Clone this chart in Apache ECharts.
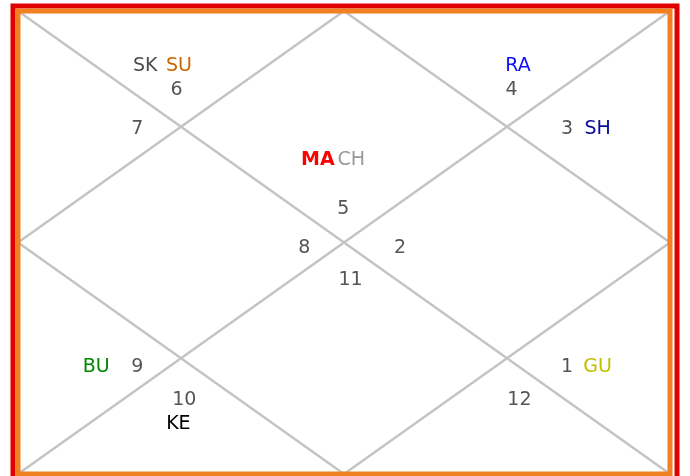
<!DOCTYPE html>
<html>
<head>
<meta charset="utf-8">
<script src="https://cdn.jsdelivr.net/npm/echarts@6/dist/echarts.min.js"></script>
<style>
  html, body { margin: 0; padding: 0; background: #fff; }
  #chart { width: 690px; height: 476px; }
</style>
</head>
<body>
<div id="chart"></div>
<script>
// chart drawn on a 0..100 square (y goes down)
const houseNumbers = ["1", "2", "3", "4", "5", "6", "7", "8", "9", "10", "11", "12"];
const houseX = [84.2, 58.6, 84.2, 75.7, 49.9, 24.3, 18.3, 43.9, 18.3, 25.5, 51.0, 76.9];
const houseY = [76.9, 51.2, 25.5, 17.1, 42.7, 17.1, 25.5, 51.2, 76.9, 84.0, 58.1, 84.0];

const planets = ["SK", "SU", "RA", "SH", "MA", "CH", "BU", "KE", "GU"];
const planetX = [19.5, 24.7, 76.7, 88.9, 46.0, 51.1, 12.0, 24.6, 88.9];
const planetY = [11.9, 11.9, 11.9, 25.5, 32.3, 32.3, 76.9, 89.2, 76.9];
const planetColors = ["#4d4d4d", "#cc6600", "#1010ff", "#0a0a99", "#ff0000", "#999999", "#008800", "#000000", "#c0c000"];

// house dividers: two diagonals and the inner diamond
const diag1 = [[0, 0], [100, 100]];
const diag2 = [[100, 0], [0, 100]];
const diamond = [[50, 0], [100, 50], [50, 100], [0, 50], [50, 0]];

const chart = echarts.init(document.getElementById("chart"));

const lineStyle = { color: "#c4c4c4", width: 2.5 };
const font = "DejaVu Sans, Verdana, sans-serif";

chart.setOption({
  animation: false,
  grid: {
    left: 18,
    top: 11,
    right: 20,
    bottom: 2,
    show: true,
    borderColor: "#f08020",
    borderWidth: 5,
    z: 10,
  },
  graphic: [
    {
      type: "rect",
      shape: { x: 13, y: 6, width: 664, height: 500 },
      style: { fill: null, stroke: "#e00000", lineWidth: 5 },
    },
  ],
  xAxis: { type: "value", min: 0, max: 100, show: false },
  yAxis: { type: "value", min: 0, max: 100, inverse: true, show: false },
  series: [
    { type: "line", data: diag1, symbol: "none", lineStyle: lineStyle },
    { type: "line", data: diag2, symbol: "none", lineStyle: lineStyle },
    { type: "line", data: diamond, symbol: "none", lineStyle: lineStyle },
    {
      type: "scatter",
      symbolSize: 0,
      itemStyle: { opacity: 1 },
      data: houseNumbers.map((n, i) => ({ name: n, value: [houseX[i], houseY[i]] })),
      label: {
        show: true,
        position: "inside",
        formatter: (p) => p.name,
        color: "#555555",
        fontFamily: font,
        fontSize: 19,
      },
    },
    {
      type: "scatter",
      symbolSize: 0,
      itemStyle: { opacity: 1 },
      data: planets.map((n, i) => ({
        name: n,
        value: [planetX[i], planetY[i]],
        label: { color: planetColors[i], fontWeight: n === "MA" ? "bold" : "normal" },
      })),
      label: {
        show: true,
        position: "inside",
        formatter: (p) => p.name,
        fontFamily: font,
        fontSize: 19,
      },
    },
  ],
});
</script>
</body>
</html>
